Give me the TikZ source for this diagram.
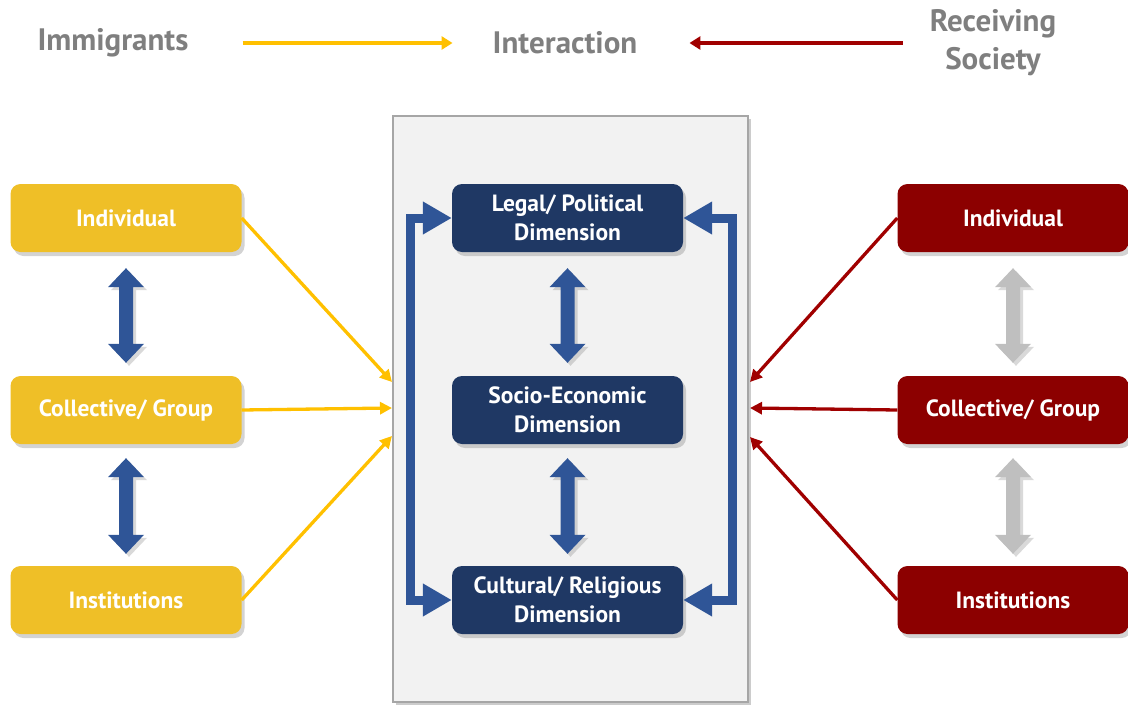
\documentclass[tikz,border=0pt]{standalone}
\usepackage{fontspec}
\setmainfont{PT Sans}
\usetikzlibrary{arrows.meta,shadows,calc}

\definecolor{gold}{HTML}{EFBF27}
\definecolor{amber}{HTML}{FFC000}
\definecolor{wine}{HTML}{8C0000}
\definecolor{winearrow}{HTML}{A00000}
\definecolor{navy}{HTML}{1F3864}
\definecolor{steel}{HTML}{2F5597}
\definecolor{silver}{HTML}{BFBFBF}
\definecolor{headgray}{HTML}{7F7F7F}
\definecolor{panelfill}{HTML}{F2F2F2}
\definecolor{panelline}{HTML}{A6A6A6}

% vertical double block arrow between two points (top, bottom)
\newcommand\vdblarrow[3]{%
  \fill[#3, drop shadow={opacity=0.3, shadow xshift=3pt, shadow yshift=-3pt}]
    let \p1=(#1), \p2=(#2) in
    (\x1,\y1) -- (\x1+18pt,\y1-19pt) -- (\x1+7pt,\y1-19pt) -- (\x1+7pt,\y2+19pt)
    -- (\x1+18pt,\y2+19pt) -- (\x1,\y2) -- (\x1-18pt,\y2+19pt) -- (\x1-7pt,\y2+19pt)
    -- (\x1-7pt,\y1-19pt) -- (\x1-18pt,\y1-19pt) -- cycle;}

\begin{document}
\begin{tikzpicture}[x=1pt,y=-1pt,
  box/.style={rounded corners=10pt, minimum width=231pt, minimum height=68pt,
    inner sep=2pt, text=white, align=center,
    font=\fontsize{23.5}{29}\selectfont\bfseries,
    drop shadow={opacity=0.35, shadow xshift=3pt, shadow yshift=-4pt}},
  ybox/.style={box, fill=gold},
  rbox/.style={box, fill=wine},
  nbox/.style={box, fill=navy},
  panel/.style={draw=panelline, line width=1.5pt, fill=panelfill,
    minimum width=355pt, minimum height=586pt,
    drop shadow={opacity=0.4, shadow xshift=3pt, shadow yshift=-3pt}},
  headtxt/.style={text=headgray, inner sep=0pt, align=center,
    font=\fontsize{31}{38}\selectfont\bfseries},
  bracket/.style={steel, line width=9pt, line join=miter,
    {Triangle[width=31pt,length=29pt]}-{Triangle[width=31pt,length=29pt]}},
  yline/.style={amber, line width=3.3pt, -{Triangle[width=12pt,length=12pt]}},
  rline/.style={winearrow, line width=3.3pt, -{Triangle[width=12pt,length=12pt]}},
  harrow/.style={line width=4.5pt, -{Triangle[width=13pt,length=11pt]}}
]
\useasboundingbox (0,0) rectangle (1128,707);

% header
\node[headtxt] (hImm) at (113,43) {Immigrants};
\node[headtxt] (hInt) at (565,43) {Interaction};
\node[headtxt] (hRec) at (993,43) {Receiving\\Society};
\draw[harrow, amber] ($(hImm.east)+(54,0)$) -- ($(hInt.west)+(-40,0)$);
\draw[harrow, winearrow] ($(hRec.west)+(-27,0)$) -- ($(hInt.east)+(52,0)$);

% central panel
\node[panel] (panel) at (570.5,409) {};

% immigrants side
\node[ybox] (li) at (126,218) {Individual};
\node[ybox] (lc) at (126,410) {Collective/ Group};
\node[ybox] (lt) at (126,600) {Institutions};

% receiving society side
\node[rbox] (ri) at (1013,218) {Individual};
\node[rbox] (rc) at (1013,410) {Collective/ Group};
\node[rbox] (rt) at (1013,600) {Institutions};

% dimensions
\node[nbox] (lp) at (567.5,218) {Legal/ Political\\Dimension};
\node[nbox] (se) at (567.5,410) {Socio-Economic\\Dimension};
\node[nbox] (cr) at (567.5,600) {Cultural/ Religious\\Dimension};

% block double arrows
\vdblarrow{$(li.south)+(0,16)$}{$(lc.north)+(0,-13)$}{steel}
\vdblarrow{$(lc.south)+(0,14)$}{$(lt.north)+(0,-12)$}{steel}
\vdblarrow{$(lp.south)+(0,16)$}{$(se.north)+(0,-13)$}{steel}
\vdblarrow{$(se.south)+(0,14)$}{$(cr.north)+(0,-12)$}{steel}
\vdblarrow{$(ri.south)+(0,16)$}{$(rc.north)+(0,-13)$}{silver}
\vdblarrow{$(rc.south)+(0,14)$}{$(rt.north)+(0,-12)$}{silver}

% feedback brackets between legal and cultural dimensions
\draw[bracket] (lp.west) -- ++(-41,0) |- (cr.west);
\draw[bracket] (lp.east) -- ++(49,0) |- (cr.east);

% free ends on the panel border
\coordinate (yin1) at (392,382);
\coordinate (yin2) at (392,408);
\coordinate (yin3) at (392,436);
\coordinate (rin1) at (750,382);
\coordinate (rin2) at (750,408);
\coordinate (rin3) at (750,437);

\draw[yline] (li.east) -- (yin1);
\draw[yline] (lc.east) -- (yin2);
\draw[yline] (lt.east) -- (yin3);
\draw[rline] (ri.west) -- (rin1);
\draw[rline] (rc.west) -- (rin2);
\draw[rline] (rt.west) -- (rin3);
\end{tikzpicture}
\end{document}
